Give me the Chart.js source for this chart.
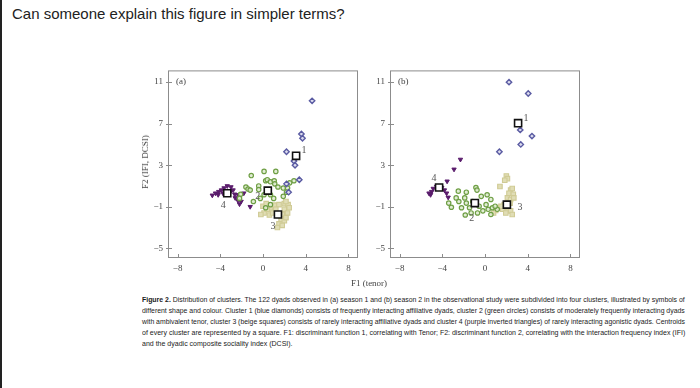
<!DOCTYPE html>
<html>
<head>
<meta charset="utf-8">
<script src="https://cdn.jsdelivr.net/npm/chart.js@4"></script>
<style>
  html, body { margin: 0; padding: 0; background: #fff; }
  body { width: 700px; height: 388px; overflow: hidden; position: relative; border-left: 2px solid #222; box-sizing: border-box; }
  .q { position: absolute; left: 10px; top: 5px; font: 15px "Liberation Sans", Arial, sans-serif; color: #222; }
  canvas { position: absolute; }
  .ytitle { position: absolute; left: 143px; top: 162px; transform: translate(-50%, -50%) rotate(-90deg); font: 9px "Liberation Serif", serif; color: #444; white-space: nowrap; }
  .xtitle { position: absolute; left: 367px; top: 283px; transform: translate(-50%, -50%); font: 9px "Liberation Serif", serif; color: #444; white-space: nowrap; }
  .cap { position: absolute; left: 140px; top: 295px; width: 543px; font: 8px "Liberation Sans Narrow", "Liberation Sans", sans-serif; color: #1a1a1a; }
  .cap div { white-space: nowrap; height: 10.9px; line-height: 10.9px; transform-origin: 0 50%; }
</style>
</head>
<body>
<div class="q">Can someone explain this figure in simpler terms?</div>
<canvas id="panelA" width="235" height="218" style="left:128px;top:60px"></canvas>
<canvas id="panelB" width="235" height="218" style="left:350px;top:60px"></canvas>
<div class="ytitle">F2 (IFI, DCSI)</div>
<div class="xtitle">F1 (tenor)</div>
<div class="cap" id="cap">
  <div><b>Figure 2.</b> Distribution of clusters. The 122 dyads observed in (a) season 1 and (b) season 2 in the observational study were subdivided into four clusters, illustrated by symbols of</div>
  <div>different shape and colour. Cluster 1 (blue diamonds) consists of frequently interacting affiliative dyads, cluster 2 (green circles) consists of moderately frequently interacting dyads</div>
  <div>with ambivalent tenor, cluster 3 (beige squares) consists of rarely interacting affiliative dyads and cluster 4 (purple inverted triangles) of rarely interacting agonistic dyads. Centroids</div>
  <div>of every cluster are represented by a square. F1: discriminant function 1, correlating with Tenor; F2: discriminant function 2, correlating with the interaction frequency index (IFI)</div>
  <div>and the dyadic composite sociality index (DCSI).</div>
</div>
<script>
// axis ticks
const xTicks = [-8, -4, 0, 4, 8]
const yTicks = [-5, -1, 3, 7, 11]

// season 1 (a)
const s1Cluster1 = [[4.6,9.2],[3.6,6.0],[3.7,5.6],[2.2,4.3],[2.9,3.4],[3.0,3.0],[3.4,1.6],[2.2,1.2],[2.4,0.4]]
const s1Cluster2 = [[-1.1,2.0],[0.1,2.4],[1.2,2.4],[0.25,1.5],[-1.6,0.9],[-1.4,0.7],[-1.2,0.6],[-0.4,1.0],[-0.4,0.65],
  [0.4,1.6],[0.7,1.4],[1.05,1.5],[1.1,1.2],[1.4,0.9],[1.9,0.8],[2.3,0.8],[2.9,1.5],[2.5,1.3],[-2.1,0.2],[-2.2,-0.2],
  [-0.9,-0.5],[-0.25,-0.2],[0.1,0.15],[0.7,0.15],[1.0,-0.2],[1.9,0.0],[2.2,0.4],[0.25,-1.1],[0.7,-0.8]]
const s1Cluster3 = [[0.0,-0.95],[0.3,-0.7],[0.7,-1.1],[1.05,-0.85],[1.5,-0.8],[2.0,-0.7],[2.35,-0.8],[2.45,-1.1],
  [2.0,-1.25],[0.1,-1.6],[-0.2,-1.75],[0.6,-1.8],[0.9,-1.6],[1.8,-1.75],[2.3,-1.6],[1.7,-2.2],[2.0,-2.35],[1.5,-2.65],
  [1.8,-2.8],[2.15,-2.05],[1.35,-3.0],[0.4,-1.25],[2.15,-0.5],[1.2,-1.25]]
const s1Cluster4 = [[-4.75,0.1],[-4.45,0.3],[-4.15,0.45],[-3.9,0.6],[-3.65,0.8],[-3.35,1.0],[-3.0,0.9],[-3.05,0.45],
  [-2.8,0.6],[-2.65,0.2],[-2.35,0.15],[-2.6,-0.15],[-2.35,-0.4],[-2.2,-0.75],[-2.05,-0.5],[-4.2,0.15],[-3.75,0.3],
  [-1.2,-1.0],[-1.8,0.3]]
const s1Centroids = [[3.1,3.9],[0.45,0.55],[1.4,-1.75],[-3.35,0.3]]

// season 2 (b)
const s2Cluster1 = [[2.25,11.0],[4.05,9.9],[4.4,5.8],[3.3,6.4],[3.35,5.0],[1.35,4.3]]
const s2Cluster2 = [[-2.5,0.5],[-1.75,0.4],[-0.85,0.85],[-0.75,0.6],[0.2,0.15],[-0.35,0.0],[-3.4,-0.65],[-3.15,-1.05],
  [-2.7,-0.15],[-2.45,-0.5],[-1.9,-0.15],[-1.75,-0.65],[-1.45,-1.1],[-1.15,-0.5],[-1.3,-1.6],[-1.85,-1.8],[-0.55,-0.95],
  [-0.2,-1.4],[0.1,-0.8],[0.3,-1.25],[0.55,-0.3],[0.7,-1.1],[0.55,-1.75],[1.15,-1.25],[0.95,-0.95],[-0.7,-1.6],[-2.2,-1.1]]
const s2Cluster3 = [[2.0,1.95],[2.1,1.7],[1.85,1.55],[1.4,0.95],[2.4,0.6],[2.55,0.75],[2.25,0.3],[2.65,0.2],[2.1,-0.15],
  [2.4,-0.3],[2.7,-0.15],[2.15,-1.1],[2.4,-1.4],[2.55,-1.75],[1.35,-1.1],[1.0,-1.35],[0.8,-1.6],[1.65,-1.25],[2.35,-0.65],
  [1.8,-0.8],[1.5,-0.95],[1.95,-1.6]]
const s2Cluster4 = [[-2.3,3.55],[-2.9,2.6],[-3.55,1.45],[-5.1,0.15],[-5.0,0.45],[-4.85,0.75],[-4.55,0.95],[-4.05,0.85],
  [-3.8,0.6],[-3.6,0.3],[-3.45,-0.1],[-5.25,0.3]]
const s2Centroids = [[3.1,7.05],[-0.95,-0.65],[2.05,-0.8],[-4.3,0.85]]

const centroidNames = ['1', '2', '3', '4']


const toXY = arr => arr.map(([x, y]) => ({x, y}))
const fmt = v => v < 0 ? '\u2212' + Math.abs(v) : String(v)

const frame = {
  id: 'frame',
  afterDatasetsDraw(chart, args, opts) {
    const {ctx, chartArea: a, scales} = chart
    ctx.save()
    ctx.strokeStyle = '#8c8c8c'
    ctx.lineWidth = 1
    ctx.strokeRect(a.left + 0.5, a.top + 0.5, a.width - 1, a.height - 1)
    ctx.beginPath()
    scales.x.ticks.forEach(t => {
      const p = Math.round(scales.x.getPixelForValue(t.value)) + 0.5
      ctx.moveTo(p, a.bottom); ctx.lineTo(p, a.bottom - 4)
    })
    scales.y.ticks.forEach(t => {
      const p = Math.round(scales.y.getPixelForValue(t.value)) + 0.5
      ctx.moveTo(a.left - 2, p); ctx.lineTo(a.left + 4, p)
    })
    ctx.stroke()

    ctx.fillStyle = '#444'
    ctx.font = '9px "Liberation Serif", serif'
    ctx.textBaseline = 'middle'
    ctx.fillText(opts.tag, a.left + 8, scales.y.getPixelForValue(11))

    // centroid numbers
    ctx.font = '10px "Liberation Serif", serif'
    ctx.fillStyle = '#555'
    ctx.textAlign = 'center'
    const meta = chart.getDatasetMeta(0)
    meta.data.forEach((pt, i) => {
      const [dx, dy] = opts.offsets[i]
      ctx.fillText(centroidNames[i], pt.x + dx, pt.y + dy)
    })
    ctx.restore()
  }
}

function makePanel(id, tag, centroids, c1, c2, c3, c4, offsets) {
  new Chart(document.getElementById(id), {
    type: 'scatter',
    data: {
      datasets: [
        {data: toXY(centroids), pointStyle: 'rect', pointRadius: 5, borderColor: '#111', backgroundColor: '#fff', borderWidth: 1.6, order: 0},
        {data: toXY(c1), pointStyle: 'rectRot', pointRadius: 2.7, borderColor: '#5a5ba2', backgroundColor: '#dcdcee', borderWidth: 1.4, order: 1},
        {data: toXY(c2), pointStyle: 'circle', pointRadius: 2.2, borderColor: '#6f9f45', backgroundColor: 'rgba(220,234,205,0.85)', borderWidth: 1.2, order: 2},
        {data: toXY(c3), pointStyle: 'rect', pointRadius: 3.2, borderColor: '#d0cb95', backgroundColor: '#e0ddb5', borderWidth: 1.1, order: 3},
        {data: toXY(c4), pointStyle: 'triangle', rotation: 180, pointRadius: 2.5, borderColor: '#5a1c6c', backgroundColor: '#5a1c6c', borderWidth: 1, order: 4},
      ]
    },
    options: {
      responsive: false,
      animation: false,
      events: [],
      layout: {padding: {left: 0, top: 6, right: 7, bottom: 0}},
      plugins: {
        legend: {display: false},
        tooltip: {enabled: false},
        frame: {tag: tag, offsets: offsets},
      },
      scales: {
        x: {
          type: 'linear',
          min: -8.9,
          max: 8.9,
          afterBuildTicks: s => { s.ticks = xTicks.map(v => ({value: v})) },
          afterFit: s => { s.height = 20 },
          grid: {display: false, drawTicks: false},
          border: {display: false},
          ticks: {font: {family: '"Liberation Serif", serif', size: 9}, color: '#444', padding: 5, callback: fmt},
        },
        y: {
          type: 'linear',
          min: -5.94,
          max: 12.13,
          afterBuildTicks: s => { s.ticks = yTicks.map(v => ({value: v})) },
          afterFit: s => { s.width = 38 },
          grid: {display: false, drawTicks: false},
          border: {display: false},
          ticks: {font: {family: '"Liberation Serif", serif', size: 9}, color: '#444', padding: 5, callback: fmt},
        }
      }
    },
    plugins: [frame],
  })
}

makePanel('panelA', '(a)', s1Centroids, s1Cluster1, s1Cluster2, s1Cluster3, s1Cluster4,
  [[8, -5], [-10, 6], [-5, 12], [-4, 12]])
makePanel('panelB', '(b)', s2Centroids, s2Cluster1, s2Cluster2, s2Cluster3, s2Cluster4,
  [[8, -5], [-3, 15], [13, 3], [-5, -9]])

// fit caption lines to the justified width
const capLines = document.querySelectorAll('#cap div')
let lastScale = 1
capLines.forEach((d, i) => {
  const w = d.scrollWidth
  if (i < capLines.length - 1) {
    lastScale = 543 / w
  }
  d.style.transform = 'scaleX(' + lastScale + ')'
})
</script>
</body>
</html>
